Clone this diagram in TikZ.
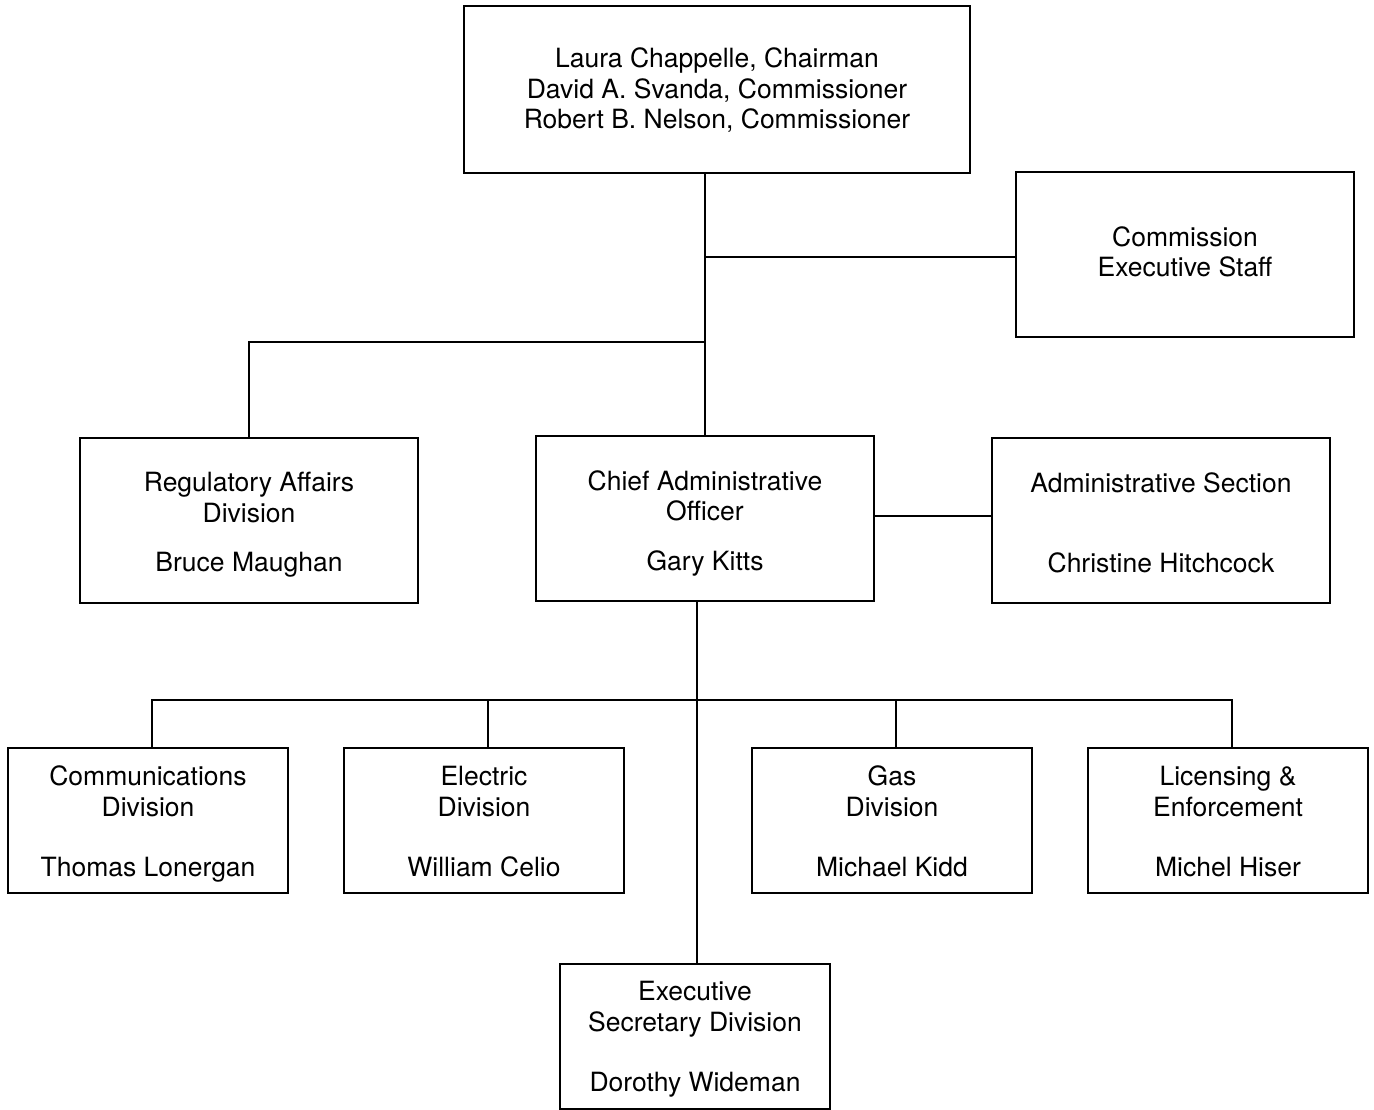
\documentclass[tikz,border=0pt]{standalone}
\usepackage{fontspec}
\setmainfont{TeX Gyre Heros}
\begin{document}
\begin{tikzpicture}[x=1pt,y=-1pt,line width=2pt,
  txt/.style={inner sep=0pt,align=center,font=\fontsize{26.5}{30.5}\selectfont},
  box/.style={draw,rectangle,inner sep=0pt},
  bigbox/.style={box,minimum width=338pt,minimum height=165pt},
  smallbox/.style={box,minimum width=280pt,minimum height=145pt}]
\useasboundingbox (0,0) rectangle (1374,1110);
\node[box,minimum width=506pt,minimum height=167pt,
  label={[txt,yshift=-3.5pt]center:Laura Chappelle, Chairman\\David A. Svanda, Commissioner\\Robert B. Nelson, Commissioner\strut}] (top) at (717,89.5) {};
\node[bigbox,label={[txt,yshift=-1.5pt]center:Commission\\Executive Staff\strut}] (staff) at (1185,254.5) {};
\node[bigbox,label={[txt,yshift=-6pt]center:Regulatory Affairs\\Division\\[19pt]Bruce Maughan\strut}] (reg) at (249,520.5) {};
\node[bigbox,label={[txt,yshift=-6.5pt]center:Chief Administrative\\Officer\\[19pt]Gary Kitts\strut}] (cao) at (705,518.5) {};
\node[bigbox,label={[txt,yshift=-6.5pt]center:Administrative Section\\[49.5pt]Christine Hitchcock\strut}] (adm) at (1161,520.5) {};
\node[smallbox,label={[txt,yshift=-5.5pt]center:Communications\\Division\\[30pt]Thomas Lonergan\strut}] (comm) at (148,820.5) {};
\node[smallbox,label={[txt,yshift=-5.5pt]center:Electric\\Division\\[30pt]William Celio\strut}] (elec) at (484,820.5) {};
\node[smallbox,label={[txt,yshift=-5.5pt]center:Gas\\Division\\[30pt]Michael Kidd\strut}] (gas) at (892,820.5) {};
\node[smallbox,label={[txt,yshift=-5.5pt]center:Licensing \&\\Enforcement\\[30pt]Michel Hiser\strut}] (lic) at (1228,820.5) {};
\node[box,minimum width=270pt,minimum height=145pt,
  label={[txt,yshift=-4.5pt]center:Executive\\Secretary Division\\[30pt]Dorothy Wideman\strut}] (exec) at (695,1036.5) {};
\coordinate (j1) at (705,342);
\coordinate (bus) at (0,700);
\draw (cao.north) -- (cao.north |- top.south);
\draw ([yshift=-2.5pt]staff.west) -- ([yshift=-2.5pt]staff.west -| cao.north);
\draw (reg.north) |- (j1);
\draw ([yshift=2.5pt]cao.east) -- ([yshift=2.5pt]cao.east -| adm.west);
\draw ([xshift=2pt]cao.south -| exec.north) -- ([xshift=2pt]exec.north);
\draw ([xshift=4pt]comm.north) |- ([xshift=4pt]lic.north |- bus) -- ([xshift=4pt]lic.north);
\draw ([xshift=4pt]elec.north) -- ([xshift=4pt]elec.north |- bus);
\draw ([xshift=4pt]gas.north) -- ([xshift=4pt]gas.north |- bus);
\end{tikzpicture}
\end{document}
